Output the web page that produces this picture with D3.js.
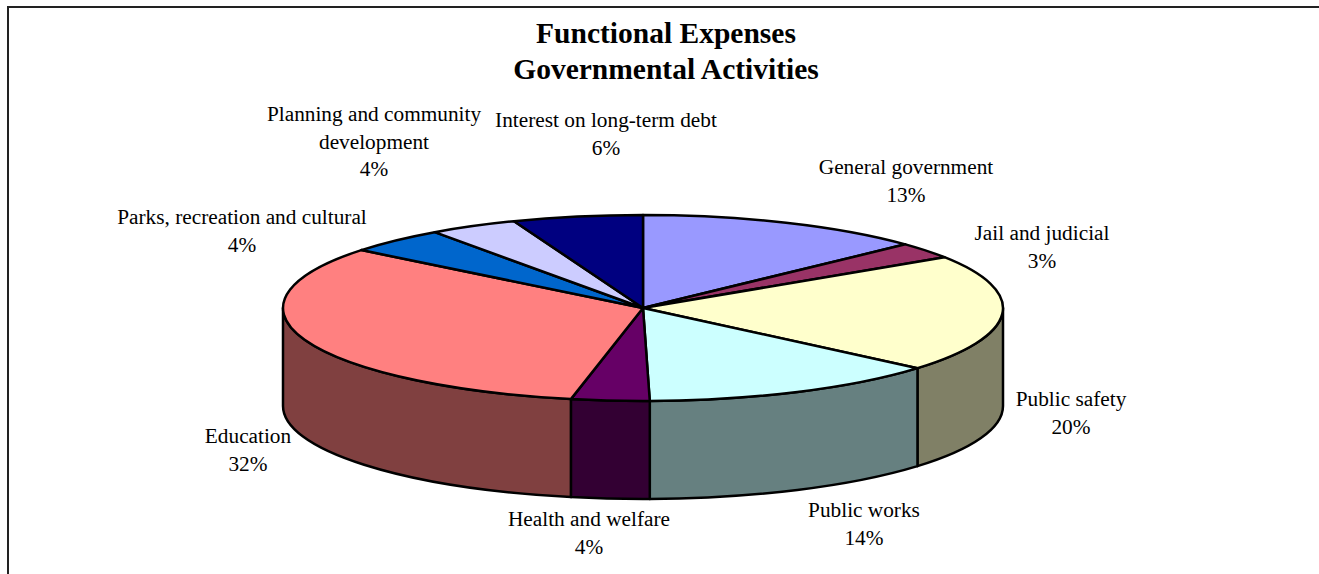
<!DOCTYPE html>
<html>
<head>
<meta charset="utf-8">
<script src="https://cdn.jsdelivr.net/npm/d3@7"></script>
<style>
  html, body { margin: 0; padding: 0; background: #fff; overflow: hidden; }
  svg { display: block; }
  text { font-family: "Liberation Serif", "Times New Roman", serif; fill: #000; }
</style>
</head>
<body>
<div id="chart"></div>
<script>
// Share of functional expenses by activity, percent, clockwise from 12 o'clock.
const categories = ["General government", "Jail and judicial", "Public safety", "Public works",
  "Health and welfare", "Education", "Parks, recreation and cultural",
  "Planning and community development", "Interest on long-term debt"];
const shares = [13.0, 2.8, 20.4, 13.5, 3.51, 32.49, 4.48, 3.99, 5.83];
const topColors = ["#9999ff", "#993366", "#ffffcc", "#ccffff", "#660066", "#ff8080", "#0066cc", "#ccccff", "#000080"];
const wallColors = ["#4d4d80", "#4d1a33", "#808066", "#668080", "#330033", "#804040", "#003366", "#666680", "#000040"];
const titleLines = ["Functional Expenses", "Governmental Activities"];

// Each label is wrapped by hand the way the chart sets it.
const labelLines = [["General government"], ["Jail and judicial"], ["Public safety"], ["Public works"],
  ["Health and welfare"], ["Education"], ["Parks, recreation and cultural"],
  ["Planning and community", "development"], ["Interest on long-term debt"]];
// Centre x and first baseline for each label block.
const labelAnchors = [[906, 174], [1042, 240], [1071, 406], [864, 517], [589, 526],
  [248, 443], [242, 224], [374, 121], [606, 127]];

const width = 1319, height = 574;
const cx = 643, cy = 308, rx = 360, ry = 93, depth = 98;
const strokeW = 2.5;

const svg = d3.select("#chart").append("svg").attr("width", width).attr("height", height);

// Frame: only the top and left edges fall inside the page.
svg.append("path")
  .attr("d", `M${width},7H8V${height}`)
  .attr("fill", "none").attr("stroke", "#222").attr("stroke-width", 2);

const slices = d3.pie().sort(null).value(d => d)(shares);

// Project a pie angle (0 at top, clockwise) onto the tilted ellipse.
const px = a => cx + rx * Math.sin(a);
const py = a => cy - ry * Math.cos(a);
const arcTo = (a0, a1, dy = 0) => {
  const sweep = a1 > a0 ? 1 : 0;
  const large = Math.abs(a1 - a0) > Math.PI ? 1 : 0;
  return `A${rx},${ry} 0 ${large} ${sweep} ${px(a1)},${py(a1) + dy}`;
};

// Side wall: only the front half of the rim is visible.
const front = [Math.PI / 2, Math.PI * 1.5];
const walls = slices
  .map(s => ({ i: s.index, a0: Math.max(s.startAngle, front[0]), a1: Math.min(s.endAngle, front[1]) }))
  .filter(w => w.a1 > w.a0);

svg.append("g").selectAll("path").data(walls).join("path")
  .attr("d", w => `M${px(w.a0)},${py(w.a0)}${arcTo(w.a0, w.a1)}L${px(w.a1)},${py(w.a1) + depth}${arcTo(w.a1, w.a0, depth)}Z`)
  .attr("fill", w => wallColors[w.i])
  .attr("stroke", "#000").attr("stroke-width", strokeW).attr("stroke-linejoin", "round");

// Top face wedges.
svg.append("g").selectAll("path").data(slices).join("path")
  .attr("d", s => `M${cx},${cy}L${px(s.startAngle)},${py(s.startAngle)}${arcTo(s.startAngle, s.endAngle)}Z`)
  .attr("fill", s => topColors[s.index])
  .attr("stroke", "#000").attr("stroke-width", strokeW).attr("stroke-linejoin", "round");

// Title.
svg.append("g").selectAll("text").data(titleLines).join("text")
  .attr("x", 666).attr("y", (d, i) => 43 + i * 36)
  .attr("text-anchor", "middle")
  .attr("font-size", 29.5).attr("font-weight", "bold")
  .text(d => d);

// Category labels with their rounded percentages underneath.
const pct = d3.format(".0f");
const label = svg.append("g").selectAll("text").data(slices).join("text")
  .attr("text-anchor", "middle").attr("font-size", 21.3);
label.selectAll("tspan")
  .data(s => [...labelLines[s.index], pct(s.value) + "%"].map(t => ({ t, i: s.index })))
  .join("tspan")
  .attr("x", d => labelAnchors[d.i][0])
  .attr("y", (d, j) => labelAnchors[d.i][1] + j * 27.6)
  .text(d => d.t);
</script>
</body>
</html>
